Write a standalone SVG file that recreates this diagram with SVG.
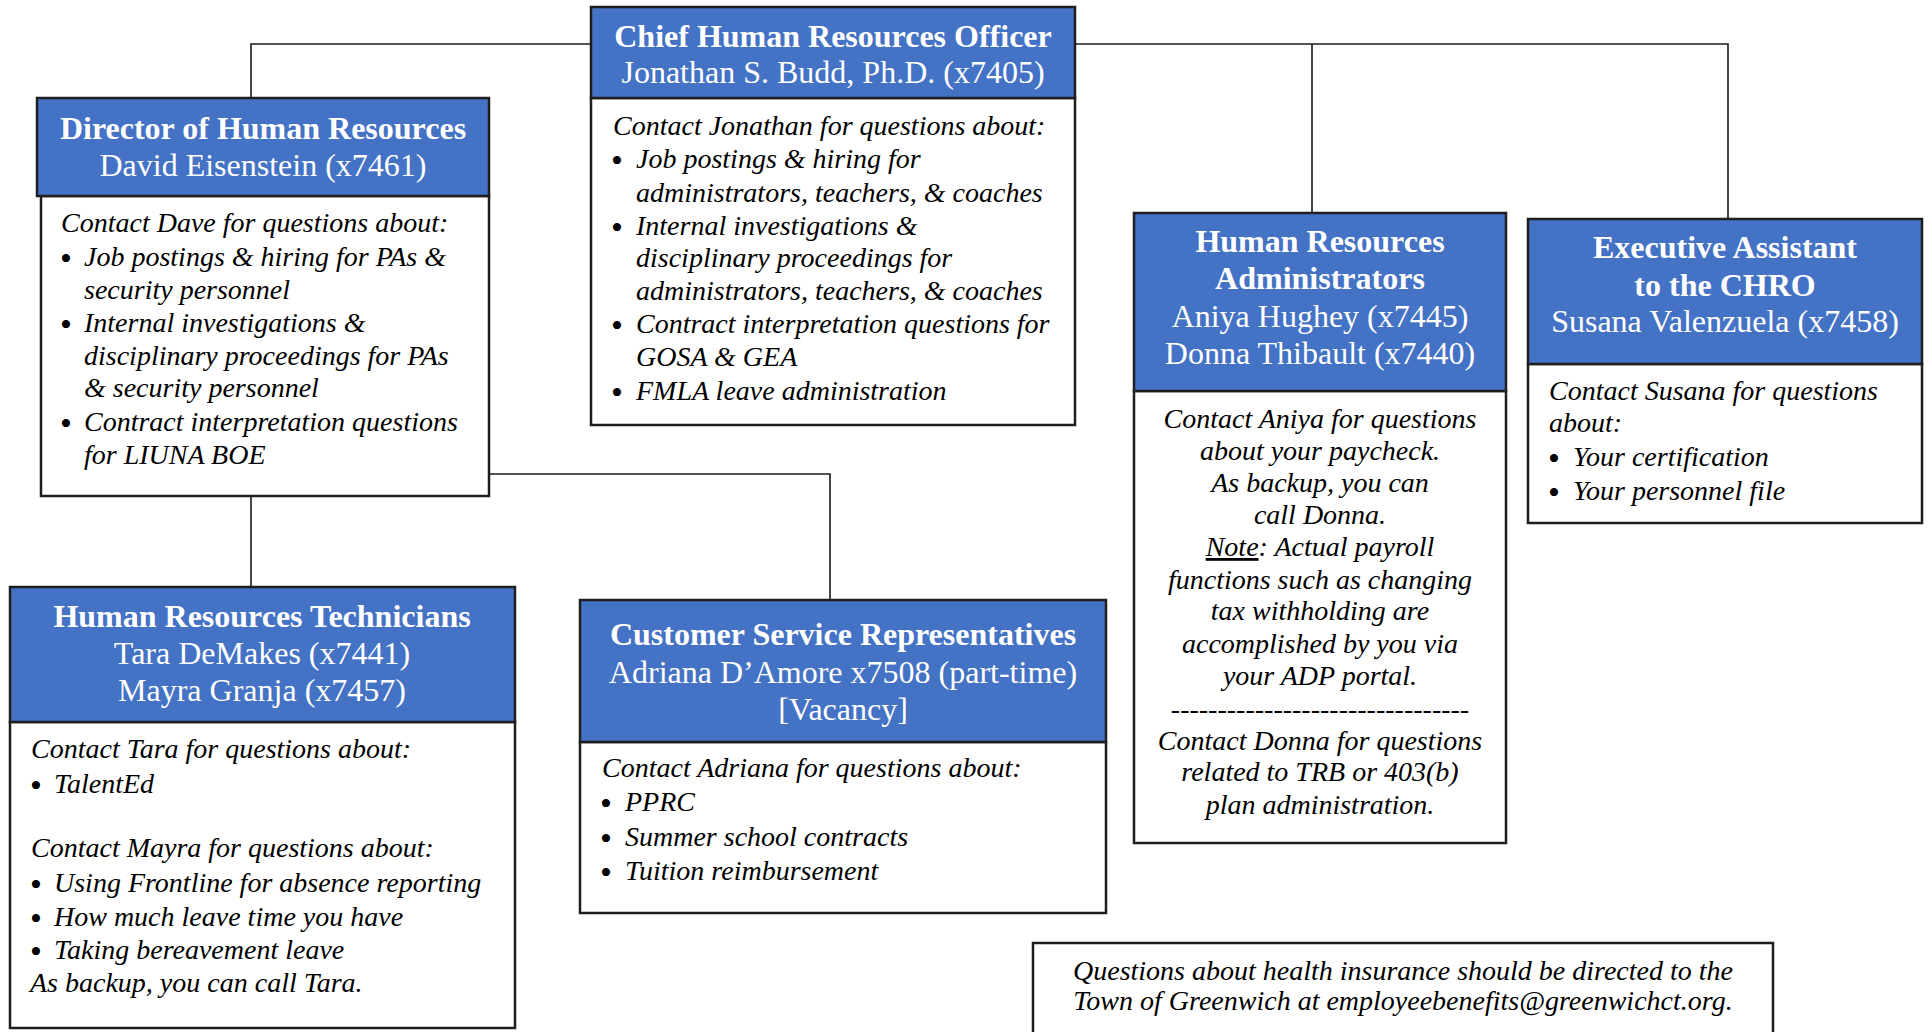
<svg xmlns="http://www.w3.org/2000/svg" width="1928" height="1032" viewBox="0 0 1928 1032">
<style>
.hdr{fill:#4472C4;stroke:#1e1e1e;stroke-width:2.5}
.body{fill:#ffffff;stroke:#1e1e1e;stroke-width:2.5}
.t{font-family:"Liberation Serif","Times New Roman",serif;font-size:32px;fill:#ffffff;text-anchor:middle}
.b{font-weight:bold}
.i{font-family:"Liberation Serif","Times New Roman",serif;font-size:28px;font-style:italic;fill:#000000}
.c{text-anchor:middle}
.bul{font-family:"Liberation Serif","Times New Roman",serif;font-size:34px;fill:#000000}
.conn{fill:none;stroke:#1a1a1a;stroke-width:1.6}
</style>
<rect width="1928" height="1032" fill="#ffffff"/>
<g id="connectors">
<path class="conn" d="M251 98 V44 H591"/>
<path class="conn" d="M1075 44 H1728 V219"/>
<path class="conn" d="M1312 44 V213"/>
<path class="conn" d="M251 496 V587"/>
<path class="conn" d="M489 474 H830 V600"/>
</g>
<g id="chro">
<rect class="body" x="591" y="98" width="484" height="327"/>
<rect class="hdr" x="591" y="7" width="484" height="91"/>
<text class="t b" x="833" y="47">Chief Human Resources Officer</text>
<text class="t" x="833" y="83">Jonathan S. Budd, Ph.D. (x7405)</text>
<text class="i" x="613" y="135">Contact Jonathan for questions about:</text>
<text class="bul" x="611" y="172">•</text><text class="i" x="636" y="168">Job postings &amp; hiring for</text>
<text class="i" x="636" y="202">administrators, teachers, &amp; coaches</text>
<text class="bul" x="611" y="239">•</text><text class="i" x="636" y="235">Internal investigations &amp;</text>
<text class="i" x="636" y="267">disciplinary proceedings for</text>
<text class="i" x="636" y="300">administrators, teachers, &amp; coaches</text>
<text class="bul" x="611" y="337">•</text><text class="i" x="636" y="333">Contract interpretation questions for</text>
<text class="i" x="636" y="366">GOSA &amp; GEA</text>
<text class="bul" x="611" y="404">•</text><text class="i" x="636" y="400">FMLA leave administration</text>
</g>
<g id="director">
<rect class="body" x="41" y="196" width="448" height="300"/>
<rect class="hdr" x="37" y="98" width="452" height="98"/>
<text class="t b" x="263" y="139">Director of Human Resources</text>
<text class="t" x="263" y="176">David Eisenstein (x7461)</text>
<text class="i" x="61" y="232">Contact Dave for questions about:</text>
<text class="bul" x="60" y="270">•</text><text class="i" x="84" y="266">Job postings &amp; hiring for PAs &amp;</text>
<text class="i" x="84" y="299">security personnel</text>
<text class="bul" x="60" y="336">•</text><text class="i" x="84" y="332">Internal investigations &amp;</text>
<text class="i" x="84" y="365">disciplinary proceedings for PAs</text>
<text class="i" x="84" y="397">&amp; security personnel</text>
<text class="bul" x="60" y="435">•</text><text class="i" x="84" y="431">Contract interpretation questions</text>
<text class="i" x="84" y="464">for LIUNA BOE</text>
</g>
<g id="hr-admins">
<rect class="body" x="1134" y="391" width="372" height="452"/>
<rect class="hdr" x="1134" y="213" width="372" height="178"/>
<text class="t b" x="1320" y="252">Human Resources</text>
<text class="t b" x="1320" y="289">Administrators</text>
<text class="t" x="1320" y="327">Aniya Hughey (x7445)</text>
<text class="t" x="1320" y="364">Donna Thibault (x7440)</text>
<text class="i c" x="1320" y="428">Contact Aniya for questions</text>
<text class="i c" x="1320" y="460">about your paycheck.</text>
<text class="i c" x="1320" y="492">As backup, you can</text>
<text class="i c" x="1320" y="524">call Donna.</text>
<text class="i c" x="1320" y="556"><tspan text-decoration="underline">Note</tspan>: Actual payroll</text>
<text class="i c" x="1320" y="589">functions such as changing</text>
<text class="i c" x="1320" y="620">tax withholding are</text>
<text class="i c" x="1320" y="653">accomplished by you via</text>
<text class="i c" x="1320" y="685">your ADP portal.</text>
<text class="i c" x="1320" y="718">--------------------------------</text>
<text class="i c" x="1320" y="750">Contact Donna for questions</text>
<text class="i c" x="1320" y="781">related to TRB or 403(b)</text>
<text class="i c" x="1320" y="814">plan administration.</text>
</g>
<g id="exec-assistant">
<rect class="body" x="1528" y="364" width="394" height="159"/>
<rect class="hdr" x="1528" y="219" width="394" height="145"/>
<text class="t b" x="1725" y="258">Executive Assistant</text>
<text class="t b" x="1725" y="296">to the CHRO</text>
<text class="t" x="1725" y="332">Susana Valenzuela (x7458)</text>
<text class="i" x="1549" y="400">Contact Susana for questions</text>
<text class="i" x="1549" y="432">about:</text>
<text class="bul" x="1548" y="470">•</text><text class="i" x="1573" y="466">Your certification</text>
<text class="bul" x="1548" y="504">•</text><text class="i" x="1573" y="500">Your personnel file</text>
</g>
<g id="hr-technicians">
<rect class="body" x="10" y="722" width="505" height="306"/>
<rect class="hdr" x="10" y="587" width="505" height="135"/>
<text class="t b" x="262" y="627">Human Resources Technicians</text>
<text class="t" x="262" y="664">Tara DeMakes (x7441)</text>
<text class="t" x="262" y="701">Mayra Granja (x7457)</text>
<text class="i" x="31" y="758">Contact Tara for questions about:</text>
<text class="bul" x="30" y="797">•</text><text class="i" x="54" y="793">TalentEd</text>
<text class="i" x="31" y="857">Contact Mayra for questions about:</text>
<text class="bul" x="30" y="896">•</text><text class="i" x="54" y="892">Using Frontline for absence reporting</text>
<text class="bul" x="30" y="930">•</text><text class="i" x="54" y="926">How much leave time you have</text>
<text class="bul" x="30" y="963">•</text><text class="i" x="54" y="959">Taking bereavement leave</text>
<text class="i" x="30" y="992">As backup, you can call Tara.</text>
</g>
<g id="customer-service">
<rect class="body" x="580" y="742" width="526" height="171"/>
<rect class="hdr" x="580" y="600" width="526" height="142"/>
<text class="t b" x="843" y="645">Customer Service Representatives</text>
<text class="t" x="843" y="683">Adriana D’Amore x7508 (part-time)</text>
<text class="t" x="843" y="720">[Vacancy]</text>
<text class="i" x="602" y="777">Contact Adriana for questions about:</text>
<text class="bul" x="600" y="815">•</text><text class="i" x="625" y="811">PPRC</text>
<text class="bul" x="600" y="850">•</text><text class="i" x="625" y="846">Summer school contracts</text>
<text class="bul" x="600" y="884">•</text><text class="i" x="625" y="880">Tuition reimbursement</text>
</g>
<g id="health-note">
<rect class="body" x="1033" y="943" width="740" height="100"/>
<text class="i c" x="1403" y="980">Questions about health insurance should be directed to the</text>
<text class="i c" x="1403" y="1010">Town of Greenwich at employeebenefits@greenwichct.org.</text>
</g>
</svg>
